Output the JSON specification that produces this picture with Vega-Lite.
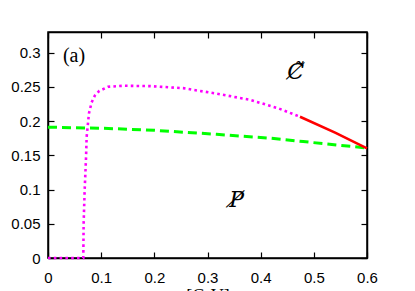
{
  "$schema": "https://vega.github.io/schema/vega-lite/v6.json",
  "width": 319,
  "height": 226,
  "autosize": "none",
  "padding": {"left": 48, "top": 32, "right": 48, "bottom": 33},
  "config": {
    "view": {"stroke": "black", "strokeWidth": 1.5},
    "axis": {"grid": false, "domainColor": "black", "tickColor": "black", "labelColor": "black", "labelFont": "Liberation Sans", "labelFontSize": 15, "tickSize": -6, "domainWidth": 1.5, "tickWidth": 1.2, "labelFlush": false, "labelOverlap": false}
  },
  "datasets": {
    "curves": [
      {"x": 0.0, "y": 0.0, "s": "m"},
      {"x": 0.063, "y": 0.0, "s": "m"},
      {"x": 0.0664, "y": 0.0, "s": "m"},
      {"x": 0.067, "y": 0.05, "s": "m"},
      {"x": 0.069, "y": 0.1, "s": "m"},
      {"x": 0.0715, "y": 0.146, "s": "m"},
      {"x": 0.0727, "y": 0.177, "s": "m"},
      {"x": 0.077, "y": 0.211, "s": "m"},
      {"x": 0.082, "y": 0.227, "s": "m"},
      {"x": 0.088, "y": 0.237, "s": "m"},
      {"x": 0.0965, "y": 0.244, "s": "m"},
      {"x": 0.113, "y": 0.25, "s": "m"},
      {"x": 0.142, "y": 0.2515, "s": "m"},
      {"x": 0.192, "y": 0.251, "s": "m"},
      {"x": 0.254, "y": 0.248, "s": "m"},
      {"x": 0.317, "y": 0.240, "s": "m"},
      {"x": 0.380, "y": 0.231, "s": "m"},
      {"x": 0.433, "y": 0.2186, "s": "m"},
      {"x": 0.474, "y": 0.2063, "s": "m"},
      {"x": 0.474, "y": 0.2063, "s": "r"},
      {"x": 0.54, "y": 0.183, "s": "r"},
      {"x": 0.6, "y": 0.160, "s": "r"},
      {"x": 0.0, "y": 0.191, "s": "g"},
      {"x": 0.1, "y": 0.1895, "s": "g"},
      {"x": 0.2, "y": 0.1865, "s": "g"},
      {"x": 0.317, "y": 0.1806, "s": "g"},
      {"x": 0.417, "y": 0.175, "s": "g"},
      {"x": 0.48, "y": 0.170, "s": "g"},
      {"x": 0.543, "y": 0.165, "s": "g"},
      {"x": 0.6, "y": 0.1606, "s": "g"}
    ],
    "labels": [
      {"x": 0.028, "y": 0.286, "t": "(a)", "k": "a"},
      {"x": 0.466, "y": 0.272, "t": "C̸̃", "k": "c"},
      {"x": 0.355, "y": 0.085, "t": "P̸", "k": "p"}
    ]
  },
  "layer": [
    {
      "data": {"name": "curves"},
      "transform": [{"filter": "datum.s == 'g'"}],
      "mark": {"type": "line", "color": "#00ff00", "strokeWidth": 3, "strokeDash": [9, 5]},
      "encoding": {
        "x": {"field": "x", "type": "quantitative", "scale": {"domain": [0, 0.6], "nice": false},
          "axis": {"values": [0, 0.1, 0.2, 0.3, 0.4, 0.5, 0.6], "format": "~g", "labelPadding": 18, "title": "[C₀V]", "titleFont": "Liberation Serif", "titleFontSize": 18, "titleFontWeight": "normal", "titlePadding": 2}},
        "y": {"field": "y", "type": "quantitative", "scale": {"domain": [0, 0.33], "nice": false},
          "axis": {"values": [0, 0.05, 0.1, 0.15, 0.2, 0.25, 0.3], "format": "~g", "labelPadding": 14, "title": null}}
      }
    },
    {
      "data": {"name": "curves"},
      "transform": [{"filter": "datum.s == 'm'"}],
      "mark": {"type": "line", "color": "#ff00ff", "strokeWidth": 2.6, "strokeDash": [2.6, 3.2]},
      "encoding": {
        "x": {"field": "x", "type": "quantitative", "axis": {"orient": "top", "values": [0, 0.1, 0.2, 0.3, 0.4, 0.5, 0.6], "labels": false, "title": null}},
        "y": {"field": "y", "type": "quantitative", "axis": {"orient": "right", "values": [0, 0.05, 0.1, 0.15, 0.2, 0.25, 0.3], "labels": false, "title": null}}
      }
    },
    {
      "data": {"name": "curves"},
      "transform": [{"filter": "datum.s == 'r'"}],
      "mark": {"type": "line", "color": "#ff0000", "strokeWidth": 2.6},
      "encoding": {
        "x": {"field": "x", "type": "quantitative", "axis": null},
        "y": {"field": "y", "type": "quantitative", "axis": null}
      }
    },
    {
      "data": {"name": "labels"},
      "mark": {"type": "text", "font": "Liberation Serif", "fontSize": 20, "align": "left", "baseline": "alphabetic", "color": "black"},
      "transform": [{"filter": "datum.k == 'a'"}],
      "encoding": {
        "x": {"field": "x", "type": "quantitative", "axis": null},
        "y": {"field": "y", "type": "quantitative", "axis": null},
        "text": {"field": "t"}
      }
    },
    {
      "data": {"name": "labels"},
      "mark": {"type": "text", "font": "DejaVu Serif", "fontSize": 22, "fontStyle": "italic", "align": "center", "baseline": "middle", "color": "black"},
      "transform": [{"filter": "datum.k != 'a'"}],
      "encoding": {
        "x": {"field": "x", "type": "quantitative", "axis": null},
        "y": {"field": "y", "type": "quantitative", "axis": null},
        "text": {"field": "t"}
      }
    }
  ],
  "resolve": {"axis": {"x": "independent", "y": "independent"}}
}
